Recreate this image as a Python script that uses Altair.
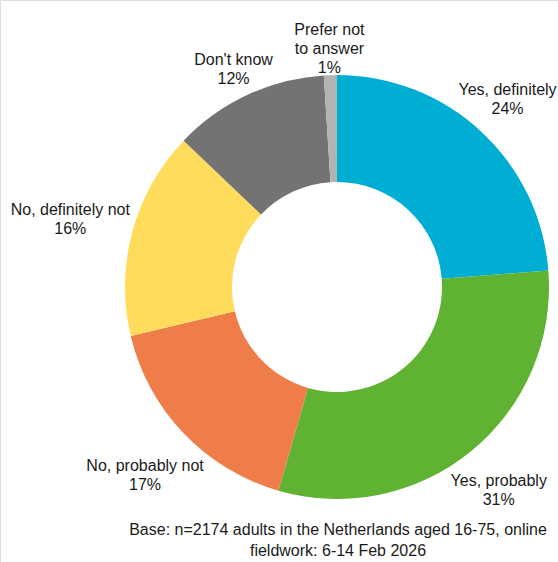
import altair as alt
import pandas as pd

categories = ["Yes, definitely", "Yes, probably", "No, probably not",
              "No, definitely not", "Don't know", "Prefer not to answer"]
label_text = ["Yes, definitely", "Yes, probably", "No, probably not",
              "No, definitely not", "Don't know", "Prefer not\nto answer"]
values = [24, 31, 17, 16, 12, 1]
colors = ["#00AED4", "#60B232", "#EF7D4A", "#FFDC5C", "#737373", "#B3B3B3"]
caption = ["Base: n=2174 adults in the Netherlands aged 16-75, online",
           "fieldwork: 6-14 Feb 2026"]

df = pd.DataFrame({
    "category": categories,
    "value": values,
    "order": list(range(len(categories))),
    "label": [f"{t}\n{v}%" for t, v in zip(label_text, values)],
})

W, H = 558, 562
CX, CY = 337, 287
R_OUT, R_IN = 212, 105
FONT = "Liberation Sans"
FS = 16
LH = 19

arcs = alt.Chart(df).mark_arc(innerRadius=R_IN, outerRadius=R_OUT, stroke=None).encode(
    theta=alt.Theta("value:Q", stack=True),
    order=alt.Order("order:Q"),
    x=alt.value(CX),
    y=alt.value(CY),
    color=alt.Color("category:N", scale=alt.Scale(domain=categories, range=colors), legend=None),
)

# label block placed just outside the ring along each slice's mid-angle
labels = alt.Chart(df).transform_joinaggregate(
    total="sum(value)"
).transform_window(
    cum="sum(value)", sort=[alt.SortField("order", order="ascending")], frame=[None, 0]
).transform_calculate(
    mid="2*PI*(datum.cum - datum.value/2)/datum.total",
    nl="length(split(datum.label, '\\n'))",
    hw="3.3*length(split(datum.label, '\\n')[0])",
).transform_calculate(
    hh=f"{LH/2}*datum.nl",
).transform_calculate(
    r=f"{R_OUT + 2} + datum.hw*abs(sin(datum.mid)) + datum.hh*abs(cos(datum.mid))",
).transform_calculate(
    lx=f"max(datum.hw + 1, min({W - 1} - datum.hw, {CX} + datum.r*sin(datum.mid)))",
    ly=f"{CY} - datum.r*cos(datum.mid) - (datum.nl - 1)*{LH/2}",
).mark_text(font=FONT, fontSize=FS, lineBreak="\n", lineHeight=LH, color="#1a1a1a",
            align="center", baseline="middle", dy=5).encode(
    x=alt.X("lx:Q", scale=None, axis=None),
    y=alt.Y("ly:Q", scale=None, axis=None),
    text="label:N",
)

cap_df = pd.DataFrame({"text": ["\n".join(caption)]})
cap = alt.Chart(cap_df).mark_text(font=FONT, fontSize=16, lineBreak="\n", lineHeight=21,
                                  color="#1a1a1a", align="center", baseline="middle").encode(
    text="text:N", x=alt.value(338), y=alt.value(530))

chart = alt.layer(arcs, labels, cap).properties(
    width=W, height=H, autosize=alt.AutoSizeParams(type="none"), padding=0
).configure_view(stroke=None).configure(background="white")

chart.save("out.html", embed_options={"renderer": "svg", "actions": False})
